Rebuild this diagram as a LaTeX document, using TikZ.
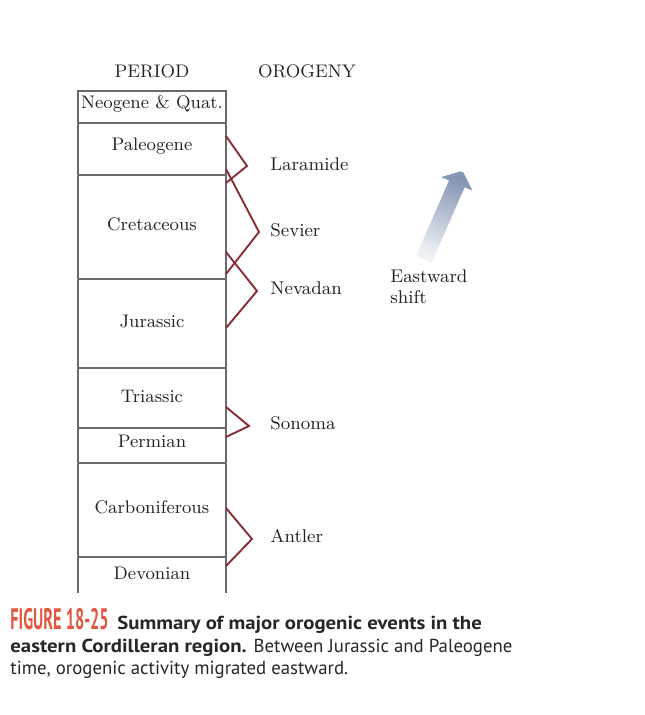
\documentclass[tikz,border=0pt]{standalone}
\usepackage{fontspec}
\usepackage{graphicx}
\newfontfamily\capfont[BoldFeatures={FakeStretch=1.105}]{PT Sans}
\newfontfamily\figfont{PT Sans}
\definecolor{linegray}{HTML}{6A6A6A}
\definecolor{txtgray}{HTML}{222222}
\definecolor{brk}{HTML}{8A2C33}
\definecolor{figred}{HTML}{E2553F}
\definecolor{arrlight}{HTML}{EEF1F6}
\definecolor{arrdark}{HTML}{8595B3}
\tikzset{
  per/.style={font=\fontsize{9.1}{11}\selectfont, text=txtgray, inner sep=0pt},
  oro/.style={font=\fontsize{9.2}{11}\selectfont, text=txtgray, inner sep=0pt, anchor=west},
  col/.style={draw=linegray, line width=0.6pt},
  bracket/.style={draw=brk, line width=0.95pt, line join=miter},
  capline/.style={font=\capfont\fontsize{9.4}{11}\selectfont, text=black!85, inner sep=0pt, anchor=base west}
}
\begin{document}
\begin{tikzpicture}[x=0.5pt,y=-0.5pt]
\useasboundingbox (0,0) rectangle (644,715);
% headers
\node[per] (hper) at (152,71) {PERIOD};
\node[per] (horo) at (307,71) {OROGENY};
% column
\coordinate (tl) at (78,91);
\coordinate (tr) at (226,91);
\coordinate (bl) at (78,593);
\coordinate (br) at (226,593);
\draw[col] (bl) -- (tl) -- (tr) -- (br);
\foreach \yy in {123,175,279,368,428,463,557}
  \draw[col] (78,\yy) -- (226,\yy);
% period names
\node[per] (neo) at (152,104) {Neogene \& Quat.};
\node[per] (pal) at (152,146) {Paleogene};
\node[per] (cre) at (152,224) {Cretaceous};
\node[per] (jur) at (152,321) {Jurassic};
\node[per] (tri) at (152,396) {Triassic};
\node[per] (per) at (152,441) {Permian};
\node[per] (car) at (152,507) {Carboniferous};
\node[per] (dev) at (152,573) {Devonian};
% orogenies
\node[oro] (lar) at (270,164) {Laramide};
\node[oro] (sev) at (270,230) {Sevier};
\node[oro] (nev) at (270,288) {Nevadan};
\node[oro] (son) at (270,423) {Sonoma};
\node[oro] (ant) at (270,536) {Antler};
% brackets
\coordinate (la1) at (226,136); \coordinate (la2) at (247,166); \coordinate (la3) at (226,183);
\coordinate (se1) at (226,169); \coordinate (se2) at (259,232); \coordinate (se3) at (226,274);
\coordinate (ne1) at (226,252); \coordinate (ne2) at (257,291); \coordinate (ne3) at (226,328);
\coordinate (so1) at (226,407); \coordinate (so2) at (249,426); \coordinate (so3) at (226,437);
\coordinate (an1) at (226,508); \coordinate (an2) at (252,539); \coordinate (an3) at (226,566);
\draw[bracket] (la1) -- (la2) -- (la3);
\draw[bracket] (se1) -- (se2) -- (se3);
\draw[bracket] (ne1) -- (ne2) -- (ne3);
\draw[bracket] (so1) -- (so2) -- (so3);
\draw[bracket] (an1) -- (an2) -- (an3);
% eastward arrow
\shade[top color=arrdark, bottom color=arrlight, shading angle=-23.6]
  (416.2,255.6) -- (431.8,262.4) -- (464.6,187.3) -- (472.4,190.7)
  -- (463.5,172.6) -- (460.5,171.4) -- (441.2,177.1) -- (449,180.5) -- cycle;
\node[per, anchor=north west, align=left, font=\fontsize{9.2}{10.5}\selectfont] (east) at (390,269) {Eastward\\shift};
% caption
\node[capline, text=figred] (fig) at (10,629) {\scalebox{0.55}[1]{\figfont\fontsize{14.8}{15}\selectfont\bfseries FIGURE 18-25}};
\node[capline] (c1) at (117,629) {\bfseries Summary of major orogenic events in the};
\node[capline] (c2) at (10,652) {\bfseries eastern Cordilleran region. \mdseries Between Jurassic and Paleogene};
\node[capline] (c3) at (10,674) {time, orogenic activity migrated eastward.};
\end{tikzpicture}
\end{document}
